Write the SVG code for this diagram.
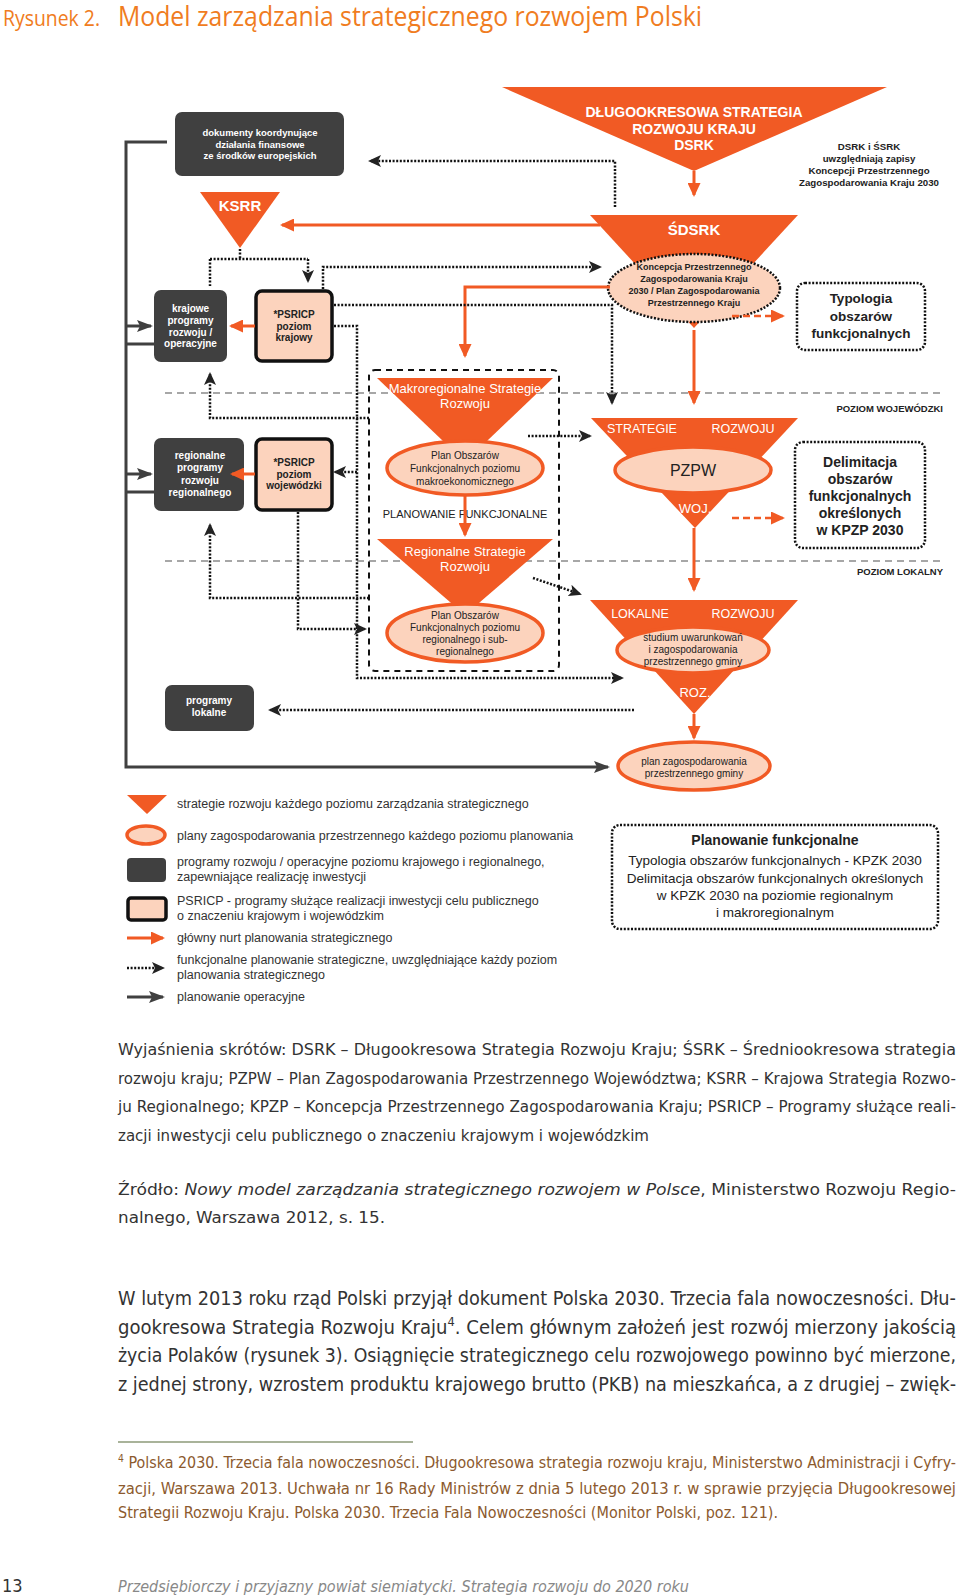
<svg xmlns="http://www.w3.org/2000/svg" width="960" height="1596" viewBox="0 0 960 1596">
<defs>
<marker id="mo" markerUnits="userSpaceOnUse" markerWidth="14" markerHeight="13" viewBox="0 0 14 13" refX="12" refY="6.5" orient="auto"><path d="M0,0 L14,6.5 L0,13 z" fill="#f15a24"/></marker>
<marker id="mb" markerUnits="userSpaceOnUse" markerWidth="13" markerHeight="12" viewBox="0 0 13 12" refX="11" refY="6" orient="auto"><path d="M0,0 L13,6 L0,12 L3,6 z" fill="#222"/></marker>
<marker id="mk" markerUnits="userSpaceOnUse" markerWidth="16" markerHeight="12" viewBox="0 0 16 12" refX="14" refY="6" orient="auto"><path d="M0,0 L16,6 L0,12 L3,6 z" fill="#404040"/></marker>
</defs>
<style>
.o{fill:#f15a24}
.pe{fill:#fcd3bd}
.dk{fill:#404040}
.t{font-family:"Liberation Sans",Arial,sans-serif}
.b{font-weight:bold}
.w{fill:#fff}
.k{fill:#222}
.m{text-anchor:middle}
.e{text-anchor:end}
.ell{fill:#fcd3bd;stroke:#f15a24;stroke-width:3.5}
.psr{fill:#fcd3bd;stroke:#111;stroke-width:3.5}
.dotb{fill:#fff;stroke:#111;stroke-width:2.5;stroke-dasharray:2 1.6}
.lo{stroke:#f15a24;stroke-width:3;fill:none}
.ld{stroke:#111;stroke-width:2.5;stroke-dasharray:2 1.6;fill:none}
.lk{stroke:#404040;stroke-width:3;fill:none}
.lod{stroke:#f15a24;stroke-width:2.5;stroke-dasharray:7 4;fill:none}
.lg{stroke:#8a8a8a;stroke-width:1.5;stroke-dasharray:7 5;fill:none}
.body{font-family:"Liberation Sans Narrow","DejaVu Sans Condensed","Liberation Sans",sans-serif;fill:#333}
.leg{font-family:"Liberation Sans",Arial,sans-serif;font-size:12.5px;fill:#333}
</style>
<rect width="960" height="1596" fill="#fff"/>

<g id="title" font-family="'Open Sans','Liberation Sans',sans-serif" fill="#f07c21">
<text x="3" y="26" font-size="21" textLength="97" lengthAdjust="spacingAndGlyphs">Rysunek 2.</text>
<text x="118" y="26" font-size="27" textLength="584" lengthAdjust="spacingAndGlyphs">Model zarządzania strategicznego rozwojem Polski</text>
</g>

<g id="levels">
<path class="lg" d="M165,393 H943 M165,561 H943"/>
<text class="t b k e" x="943" y="412" font-size="9.5">POZIOM WOJEWÓDZKI</text>
<text class="t b k e" x="943" y="575" font-size="9.5">POZIOM LOKALNY</text>
</g>

<g id="makro-frame"><rect x="369" y="370" width="190" height="301" rx="6" fill="none" stroke="#111" stroke-width="2" stroke-dasharray="6 5"/></g>

<g id="dokumenty">
<rect class="dk" x="175" y="112" width="169" height="64" rx="7"/>
<text class="t b w m" font-size="9.5"><tspan x="260" y="136">dokumenty koordynujące</tspan><tspan x="260" y="148">działania finansowe</tspan><tspan x="260" y="159">ze środków europejskich</tspan></text>
</g>
<g id="ksrr">
<polygon class="o" points="200,192 280,192 240,248"/>
<text class="t b w m" x="240" y="211" font-size="15">KSRR</text>
</g>
<g id="dsrk">
<polygon class="o" points="502,87 887,87 694,171"/>
<text class="t b w m" font-size="14"><tspan x="694" y="117">DŁUGOOKRESOWA STRATEGIA</tspan><tspan x="694" y="134">ROZWOJU KRAJU</tspan><tspan x="694" y="150">DSRK</tspan></text>
</g>
<g id="dsrk-note">
<text class="t b k m" font-size="9.7"><tspan x="869" y="150">DSRK i ŚSRK</tspan><tspan x="869" y="162">uwzględniają zapisy</tspan><tspan x="869" y="174">Koncepcji Przestrzennego</tspan><tspan x="869" y="186">Zagospodarowania Kraju 2030</tspan></text>
</g>
<g id="sdsrk">
<polygon class="o" points="590,215 798,215 694,328"/>
<text class="t b w m" x="694" y="235" font-size="15">ŚDSRK</text>
</g>
<g id="kpzk">
<ellipse cx="694" cy="288" rx="86" ry="34" class="pe" stroke="#111" stroke-width="2.5" stroke-dasharray="2 1.6"/>
<text class="t b k m" font-size="9"><tspan x="694" y="270">Koncepcja Przestrzennego</tspan><tspan x="694" y="282">Zagospodarowania Kraju</tspan><tspan x="694" y="294">2030 / Plan Zagospodarowania</tspan><tspan x="694" y="306">Przestrzennego Kraju</tspan></text>
</g>
<g id="typologia">
<rect class="dotb" x="797" y="283" width="128" height="67" rx="8"/>
<text class="t b k m" font-size="13.5"><tspan x="861" y="303">Typologia</tspan><tspan x="861" y="321">obszarów</tspan><tspan x="861" y="338">funkcjonalnych</tspan></text>
</g>
<g id="krajowe">
<rect class="dk" x="154" y="290" width="73" height="72" rx="7"/>
<text class="t b w m" font-size="10"><tspan x="190.5" y="312">krajowe</tspan><tspan x="190.5" y="324">programy</tspan><tspan x="190.5" y="336">rozwoju /</tspan><tspan x="190.5" y="347">operacyjne</tspan></text>
</g>
<g id="psricp-kraj">
<rect class="psr" x="256" y="291" width="76" height="70" rx="6"/>
<text class="t b k m" font-size="10"><tspan x="294" y="318">*PSRICP</tspan><tspan x="294" y="330">poziom</tspan><tspan x="294" y="341">krajowy</tspan></text>
</g>
<g id="regionalne">
<rect class="dk" x="154" y="438" width="90" height="73" rx="7"/>
<text class="t b w m" font-size="10"><tspan x="200" y="459">regionalne</tspan><tspan x="200" y="471">programy</tspan><tspan x="200" y="484">rozwoju</tspan><tspan x="200" y="496">regionalnego</tspan></text>
</g>
<g id="psricp-woj">
<rect class="psr" x="256" y="439" width="76" height="71" rx="6"/>
<text class="t b k m" font-size="10"><tspan x="294" y="466">*PSRICP</tspan><tspan x="294" y="478">poziom</tspan><tspan x="294" y="489">wojewódzki</tspan></text>
</g>
<g id="makro">
<polygon class="o" points="377,378 553,378 465,462"/>
<text class="t w m" font-size="13"><tspan x="465" y="393">Makroregionalne Strategie</tspan><tspan x="465" y="408">Rozwoju</tspan></text>
<ellipse class="ell" cx="465" cy="468" rx="78" ry="27"/>
<text class="t k m" font-size="10"><tspan x="465" y="459">Plan Obszarów</tspan><tspan x="465" y="472">Funkcjonalnych poziomu</tspan><tspan x="465" y="485">makroekonomicznego</tspan></text>
</g>
<g id="planowanie-label"><text class="t k m" x="465" y="518" font-size="11">PLANOWANIE FUNKCJONALNE</text></g>
<g id="regionalne-strategie">
<polygon class="o" points="377,539 553,539 465,615"/>
<text class="t w m" font-size="13"><tspan x="465" y="556">Regionalne Strategie</tspan><tspan x="465" y="571">Rozwoju</tspan></text>
<ellipse class="ell" cx="465" cy="633" rx="78" ry="29"/>
<text class="t k m" font-size="10"><tspan x="465" y="619">Plan Obszarów</tspan><tspan x="465" y="631">Funkcjonalnych poziomu</tspan><tspan x="465" y="643">regionalnego i sub-</tspan><tspan x="465" y="655">regionalnego</tspan></text>
</g>
<g id="woj">
<polygon class="o" points="591,418 798,418 695,528"/>
<text class="t w" font-size="12.5"><tspan x="642" y="433" text-anchor="middle">STRATEGIE</tspan><tspan x="743" y="433" text-anchor="middle">ROZWOJU</tspan></text>
<ellipse class="ell" cx="693" cy="470" rx="78" ry="23"/>
<text class="t k m" x="693" y="476" font-size="16">PZPW</text>
<text class="t w m" x="695" y="513" font-size="13">WOJ.</text>
</g>
<g id="delimitacja">
<rect class="dotb" x="795" y="442" width="130" height="106" rx="8"/>
<text class="t b k m" font-size="14"><tspan x="860" y="467">Delimitacja</tspan><tspan x="860" y="484">obszarów</tspan><tspan x="860" y="501">funkcjonalnych</tspan><tspan x="860" y="518">określonych</tspan><tspan x="860" y="535">w KPZP 2030</tspan></text>
</g>
<g id="lokalne">
<polygon class="o" points="590,600 798,600 694,714"/>
<text class="t w" font-size="12.5"><tspan x="640" y="618" text-anchor="middle">LOKALNE</tspan><tspan x="743" y="618" text-anchor="middle">ROZWOJU</tspan></text>
<ellipse class="ell" cx="693" cy="650" rx="76" ry="23"/>
<text class="t k m" font-size="10"><tspan x="693" y="641">studium uwarunkowań</tspan><tspan x="693" y="653">i zagospodarowania</tspan><tspan x="693" y="665">przestrzennego gminy</tspan></text>
<text class="t w m" x="695" y="697" font-size="13">ROZ.</text>
</g>
<g id="plan-gminy">
<ellipse class="ell" cx="694" cy="766" rx="76" ry="24"/>
<text class="t k m" font-size="10"><tspan x="694" y="765">plan zagospodarowania</tspan><tspan x="694" y="777">przestrzennego gminy</tspan></text>
</g>
<g id="programy-lokalne">
<rect class="dk" x="165" y="685" width="89" height="46" rx="7"/>
<text class="t b w m" font-size="10"><tspan x="209" y="704">programy</tspan><tspan x="209" y="716">lokalne</tspan></text>
</g>

<g id="connectors">
<path class="lo" d="M694,171 V195" marker-end="url(#mo)"/>
<path class="lo" d="M600,225 H282" marker-end="url(#mo)"/>
<path class="lo" d="M610,287 H465 V356" marker-end="url(#mo)"/>
<path class="lo" d="M694,330 V403" marker-end="url(#mo)"/>
<path class="lo" d="M465,495 V535" marker-end="url(#mo)"/>
<path class="lo" d="M694,528 V590" marker-end="url(#mo)"/>
<path class="lo" d="M694,714 V738" marker-end="url(#mo)"/>
<path class="lo" d="M255,326 H231" marker-end="url(#mo)"/>
<path class="lo" d="M255,474 H232" marker-end="url(#mo)"/>
<path class="lod" d="M732,316 H783" marker-end="url(#mo)"/>
<path class="lod" d="M732,518 H783" marker-end="url(#mo)"/>
<path class="ld" d="M615,207 V161 H370" marker-end="url(#mb)"/>
<path class="ld" d="M240,249 V259 M210,259 H308 M210,259 V286"/>
<path class="ld" d="M308,259 V281" marker-end="url(#mb)"/>
<path class="ld" d="M323,289 V267 H600" marker-end="url(#mb)"/>
<path class="ld" d="M334,305 H612 V403" marker-end="url(#mb)"/>
<path class="ld" d="M334,326 H357 V678 H622" marker-end="url(#mb)"/>
<path class="ld" d="M369,418 H210 V374" marker-end="url(#mb)"/>
<path class="ld" d="M357,472 H335" marker-end="url(#mb)"/>
<path class="ld" d="M369,598 H210 V525" marker-end="url(#mb)"/>
<path class="ld" d="M298,512 V629 H365" marker-end="url(#mb)"/>
<path class="ld" d="M528,436 H590" marker-end="url(#mb)"/>
<path class="ld" d="M533,578 L580,594" marker-end="url(#mb)"/>
<path class="ld" d="M634,710 H270" marker-end="url(#mb)"/>
<path class="lk" d="M167,142 H126 V767 H608" marker-end="url(#mk)"/>
<path class="lk" d="M126,326 H151" marker-end="url(#mk)"/>
<path class="lk" d="M126,344 H154 M126,492 H154"/>
<path class="lk" d="M126,474 H151" marker-end="url(#mk)"/>
</g>

<g id="legend">
<polygon class="o" points="127,795 167,795 147,814"/>
<text class="leg" x="177" y="808">strategie rozwoju każdego poziomu zarządzania strategicznego</text>
<ellipse class="ell" cx="146" cy="835" rx="19" ry="9" stroke-width="3"/>
<text class="leg" x="177" y="840">plany zagospodarowania przestrzennego każdego poziomu planowania</text>
<rect class="dk" x="127" y="858" width="39" height="24" rx="4"/>
<text class="leg"><tspan x="177" y="866">programy rozwoju / operacyjne poziomu krajowego i regionalnego,</tspan><tspan x="177" y="881">zapewniające realizację inwestycji</tspan></text>
<rect class="psr" x="128" y="898" width="38" height="22" rx="3" stroke-width="3"/>
<text class="leg"><tspan x="177" y="905">PSRICP - programy służące realizacji inwestycji celu publicznego</tspan><tspan x="177" y="920">o znaczeniu krajowym i wojewódzkim</tspan></text>
<path class="lo" d="M127,938 H163" marker-end="url(#mo)"/>
<text class="leg" x="177" y="942">główny nurt planowania strategicznego</text>
<path class="ld" d="M127,968 H163" marker-end="url(#mb)"/>
<text class="leg"><tspan x="177" y="964">funkcjonalne planowanie strategiczne, uwzględniające każdy poziom</tspan><tspan x="177" y="979">planowania strategicznego</tspan></text>
<path class="lk" d="M127,997 H163" marker-end="url(#mk)"/>
<text class="leg" x="177" y="1001">planowanie operacyjne</text>
</g>
<g id="planowanie-box">
<rect class="dotb" x="612" y="825" width="326" height="104" rx="8"/>
<text class="t k m" x="775" y="845" font-size="14" font-weight="bold">Planowanie funkcjonalne</text>
<text class="t k m" font-size="13.5"><tspan x="775" y="865">Typologia obszarów funkcjonalnych - KPZK 2030</tspan><tspan x="775" y="883">Delimitacja obszarów funkcjonalnych określonych</tspan><tspan x="775" y="900">w KPZK 2030 na poziomie regionalnym</tspan><tspan x="775" y="917">i makroregionalnym</tspan></text>
</g>

<g id="text" class="body">
<text x="118" y="1055" font-size="16.5" textLength="838" lengthAdjust="spacingAndGlyphs">Wyjaśnienia skrótów: DSRK – Długookresowa Strategia Rozwoju Kraju;  ŚSRK – Średniookresowa strategia</text>
<text x="118" y="1084" font-size="16.5" textLength="838" lengthAdjust="spacingAndGlyphs">rozwoju kraju; PZPW – Plan Zagospodarowania Przestrzennego Województwa; KSRR – Krajowa Strategia Rozwo-</text>
<text x="118" y="1112" font-size="16.5" textLength="838" lengthAdjust="spacingAndGlyphs">ju Regionalnego; KPZP – Koncepcja Przestrzennego Zagospodarowania Kraju; PSRICP – Programy służące reali-</text>
<text x="118" y="1141" font-size="16.5" textLength="531" lengthAdjust="spacingAndGlyphs">zacji inwestycji celu publicznego o znaczeniu krajowym i wojewódzkim</text>
<text x="118" y="1195" font-size="16.5" textLength="838" lengthAdjust="spacingAndGlyphs">Źródło: <tspan font-style="italic">Nowy model zarządzania strategicznego rozwojem w Polsce</tspan>, Ministerstwo Rozwoju Regio-</text>
<text x="118" y="1223" font-size="16.5" textLength="267" lengthAdjust="spacingAndGlyphs">nalnego, Warszawa 2012, s. 15.</text>
<text x="118" y="1305" font-size="19" textLength="838" lengthAdjust="spacingAndGlyphs">W lutym 2013 roku rząd Polski przyjął dokument Polska 2030. Trzecia fala nowoczesności. Dłu-</text>
<text x="118" y="1334" font-size="19" textLength="838" lengthAdjust="spacingAndGlyphs">gookresowa Strategia Rozwoju Kraju<tspan font-size="12" dy="-8">4</tspan><tspan dy="8">. Celem głównym założeń jest rozwój mierzony jakością</tspan></text>
<text x="118" y="1362" font-size="19" textLength="838" lengthAdjust="spacingAndGlyphs">życia Polaków (rysunek 3). Osiągnięcie strategicznego celu rozwojowego powinno być mierzone,</text>
<text x="118" y="1391" font-size="19" textLength="838" lengthAdjust="spacingAndGlyphs">z  jednej strony, wzrostem produktu krajowego brutto (PKB) na mieszkańca, a z drugiej – zwięk-</text>
</g>
<g id="footnote" class="body">
<line x1="118" y1="1442" x2="413" y2="1442" stroke="#8c9a78" stroke-width="1.5"/>
<text x="118" y="1468" font-size="15.5" fill="#8c5a2e" textLength="838" lengthAdjust="spacingAndGlyphs"><tspan font-size="10" dy="-6">4</tspan><tspan dy="6"> Polska 2030. Trzecia fala nowoczesności. Długookresowa strategia rozwoju kraju, Ministerstwo Administracji i Cyfry-</tspan></text>
<text x="118" y="1494" font-size="15.5" fill="#8c5a2e" textLength="838" lengthAdjust="spacingAndGlyphs">zacji, Warszawa 2013. Uchwała nr 16 Rady Ministrów z dnia 5 lutego 2013 r. w sprawie przyjęcia Długookresowej</text>
<text x="118" y="1518" font-size="15.5" fill="#8c5a2e" textLength="660" lengthAdjust="spacingAndGlyphs">Strategii Rozwoju Kraju. Polska 2030. Trzecia Fala Nowoczesności (Monitor Polski, poz. 121).</text>
</g>
<g id="footer" class="body">
<text x="2" y="1592" font-size="18" fill="#333">13</text>
<text x="118" y="1592" font-size="15" font-style="italic" fill="#888" textLength="571" lengthAdjust="spacingAndGlyphs">Przedsiębiorczy i przyjazny powiat siemiatycki. Strategia rozwoju do 2020 roku</text>
</g>
</svg>
